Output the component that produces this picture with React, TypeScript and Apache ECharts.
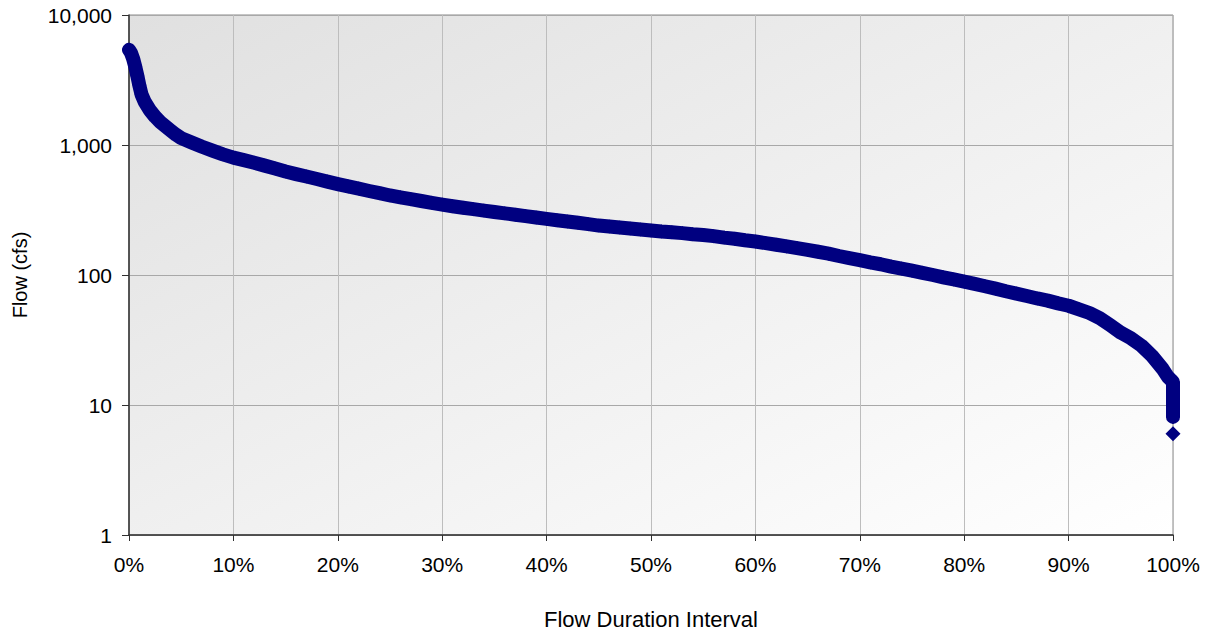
import React, { useEffect, useRef } from "react";
import * as echarts from "echarts";

// Flow duration interval (%) and flow (cfs)
const durationPct: number[] = [
  0, 0.2, 0.4, 0.6, 0.8, 1.0, 1.2, 1.5, 2, 2.5, 3, 3.5, 4, 4.5, 5,
  6, 7, 8, 9, 10, 11, 12, 13, 14, 15, 16, 17, 18, 19, 20,
  21, 22, 23, 24, 25, 26, 27, 28, 29, 30, 31, 32, 33, 34, 35,
  36, 37, 38, 39, 40, 41, 42, 43, 44, 45, 46, 47, 48, 49, 50,
  51, 52, 53, 54, 55, 56, 57, 58, 59, 60, 61, 62, 63, 64, 65,
  66, 67, 68, 69, 70, 71, 72, 73, 74, 75, 76, 77, 78, 79, 80,
  81, 82, 83, 84, 85, 86, 87, 88, 89, 90, 91, 92, 93, 94, 95,
  96, 97, 98, 99, 99.5, 99.8, 100, 100, 100, 100, 100, 100, 100,
];
const flowCfs: number[] = [
  5400, 5100, 4600, 4000, 3400, 2850, 2450, 2150, 1850, 1650, 1500, 1390, 1290, 1200, 1130,
  1045, 970, 905, 848, 800, 765, 730, 694, 659, 625, 597, 572, 547, 523, 500,
  480, 462, 443, 426, 409, 396, 383, 371, 359, 348, 338, 329, 321, 313, 305,
  298, 291, 284, 277, 270, 264, 258, 252, 246, 240, 236, 232, 228, 224, 220,
  216, 213, 210, 206, 203, 199, 194, 190, 185, 181, 176, 171, 166, 161, 156,
  151, 146, 140, 135, 130, 125, 121, 116, 112, 108, 104, 100, 96, 92.5, 89,
  85.5, 82, 78.5, 75, 72, 69, 66, 63.5, 60.5, 58, 54.5, 51, 46.5, 41, 36,
  32.5, 28.5, 23.8, 19, 16.5, 15.6, 15.0, 13.2, 11.8, 10.6, 9.6, 8.8, 8.1,
];
// lowest recorded flow, drawn as a separate marker
const minPct: number[] = [100];
const minFlow: number[] = [6];

const xTickInterval = 10;
const yMin = 1;
const yMax = 10000;

export default function App() {
  const ref = useRef<HTMLDivElement>(null);
  useEffect(() => {
    if (!ref.current) return;
    const chart = echarts.init(ref.current, undefined, { renderer: "svg" });
    const font = "Arial, 'Liberation Sans', sans-serif";
    const lineData = durationPct.map((p, i) => [p, flowCfs[i]]);
    const minData = minPct.map((p, i) => [p, minFlow[i]]);
    chart.setOption({
      animation: false,
      backgroundColor: "#ffffff",
      grid: {
        left: 129,
        right: 34,
        top: 15,
        bottom: 96,
        outerBoundsMode: "none",
        containLabel: false,
        show: true,
        borderColor: "#8a8a8a",
        borderWidth: 1,
        backgroundColor: {
          type: "linear",
          x: 0,
          y: 0,
          x2: 1,
          y2: 1,
          colorStops: [
            { offset: 0, color: "#e0e0e0" },
            { offset: 1, color: "#ffffff" },
          ],
        },
      },
      xAxis: {
        type: "value",
        min: 0,
        max: 100,
        interval: xTickInterval,
        name: "Flow Duration Interval",
        nameLocation: "middle",
        nameGap: 73,
        nameTextStyle: { fontFamily: font, fontSize: 22, color: "#000" },
        axisLine: { show: true, lineStyle: { color: "#303030", width: 1.5 } },
        axisTick: { show: true, length: 6, lineStyle: { color: "#303030" } },
        axisLabel: {
          fontFamily: font,
          fontSize: 21,
          color: "#000",
          margin: 19,
          formatter: (v: number) => `${v}%`,
        },
        splitLine: { show: true, lineStyle: { color: "#bdbdbd", width: 1 } },
      },
      yAxis: {
        type: "log",
        logBase: 10,
        min: yMin,
        max: yMax,
        name: "Flow (cfs)",
        nameLocation: "middle",
        nameGap: 99,
        nameTextStyle: { fontFamily: font, fontSize: 20, color: "#000" },
        axisLine: { show: true, lineStyle: { color: "#303030", width: 1.5 } },
        axisTick: { show: true, length: 7, lineStyle: { color: "#303030" } },
        axisLabel: {
          fontFamily: font,
          fontSize: 21,
          color: "#000",
          margin: 17,
          formatter: (v: number) => Math.round(v).toLocaleString("en-US"),
        },
        splitLine: { show: true, lineStyle: { color: "#a8a8a8", width: 1 } },
        minorTick: { show: false },
      },
      series: [
        {
          type: "line",
          data: lineData,
          symbol: "diamond",
          symbolSize: 14,
          showSymbol: true,
          showAllSymbol: true,
          itemStyle: { color: "#000080", opacity: 1 },
          lineStyle: { color: "#000080", width: 14, cap: "round", join: "round" },
          z: 3,
        },
        {
          type: "scatter",
          data: minData,
          symbol: "diamond",
          symbolSize: 15,
          itemStyle: { color: "#000080", opacity: 1 },
          z: 3,
        },
      ],
    });
    return () => chart.dispose();
  }, []);
  return (
    <div
      ref={ref}
      style={{ position: "absolute", left: 0, top: 0, width: 1207, height: 631 }}
    />
  );
}
